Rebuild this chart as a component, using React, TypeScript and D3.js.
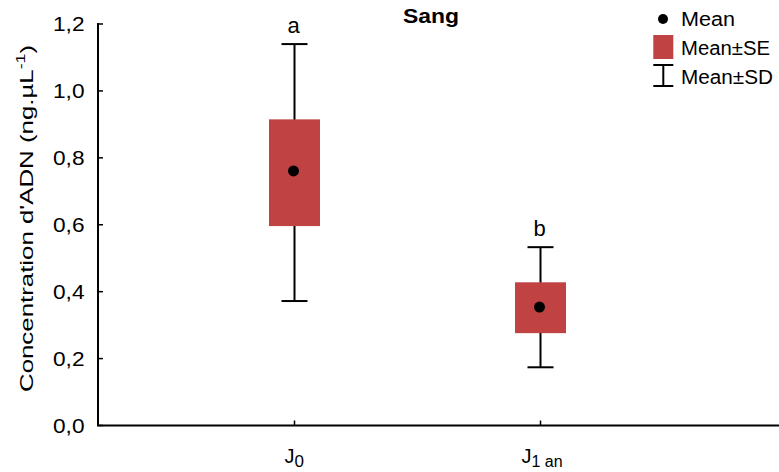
import React from "react";
import * as d3 from "d3";

const categories = ["J0", "J1an"];
const means = [0.761, 0.354];
const seLow = [0.596, 0.276];
const seHigh = [0.915, 0.428];
const sdLow = [0.372, 0.174];
const sdHigh = [1.14, 0.533];
const groupLetters = ["a", "b"];
const yTicks = [0, 0.2, 0.4, 0.6, 0.8, 1.0, 1.2];

const W = 779;
const H = 472;
const FONT = "'Liberation Sans', Arial, sans-serif";
const RED = "#c04242";

export default function App() {
  const y = d3.scaleLinear().domain([0, 1.2]).range([425.5, 24]);
  const x = d3.scalePoint<string>().domain(categories).range([294.5, 540.5]);
  const boxW = 51;
  const capW = 26;
  const fmt = (v: number) => v.toFixed(1).replace(".", ",");

  return (
    <svg
      width={W}
      height={H}
      style={{ position: "absolute", left: 0, top: 0 }}
      fontFamily={FONT}
    >
      <rect width={W} height={H} fill="#fff" />
      {/* axes */}
      <line x1={98} x2={98} y1={y(1.2) - 1} y2={y(0)} stroke="#000" strokeWidth={2} />
      <line x1={97} x2={W} y1={y(0)} y2={y(0)} stroke="#000" strokeWidth={2} />
      {yTicks.map((t) => (
        <g key={t}>
          <line x1={98} x2={103} y1={y(t)} y2={y(t)} stroke="#000" strokeWidth={1.5} />
          <text
            x={84.5}
            y={y(t)}
            dy="0.36em"
            textAnchor="end"
            fontSize={20}
            textLength={31.5}
            lengthAdjust="spacingAndGlyphs"
            fill="#000"
          >
            {fmt(t)}
          </text>
        </g>
      ))}
      {categories.map((c) => (
        <line key={c} x1={x(c)} x2={x(c)} y1={y(0)} y2={y(0) - 5} stroke="#000" strokeWidth={1.5} />
      ))}
      <text x={x("J0")! - 10} y={463} fontSize={20} fill="#000">
        <tspan>J</tspan>
        <tspan fontSize={17} dy={4}>0</tspan>
      </text>
      <text x={x("J1an")! - 19} y={463} fontSize={20} fill="#000">
        <tspan>J</tspan>
        <tspan fontSize={16} dy={4}>1 an</tspan>
      </text>
      <text
        transform={`translate(33,${218.5}) rotate(-90)`}
        textAnchor="middle"
        fontSize={19}
        textLength={347}
        lengthAdjust="spacingAndGlyphs"
        fill="#000"
      >
        Concentration d'ADN (ng.µL
        <tspan fontSize={13} dy={-8}>-1</tspan>
        <tspan dy={8}>)</tspan>
      </text>
      <text
        x={431}
        y={23.3}
        textAnchor="middle"
        fontSize={20.5}
        fontWeight="bold"
        textLength={56}
        lengthAdjust="spacingAndGlyphs"
        fill="#000"
      >
        Sang
      </text>

      {/* boxes */}
      {categories.map((c, i) => {
        const cx = x(c)!;
        return (
          <g key={c}>
            <line x1={cx} x2={cx} y1={y(sdHigh[i])} y2={y(sdLow[i])} stroke="#000" strokeWidth={2} />
            <line x1={cx - capW / 2} x2={cx + capW / 2} y1={y(sdHigh[i])} y2={y(sdHigh[i])} stroke="#000" strokeWidth={2} />
            <line x1={cx - capW / 2} x2={cx + capW / 2} y1={y(sdLow[i])} y2={y(sdLow[i])} stroke="#000" strokeWidth={2} />
            <rect
              x={cx - boxW / 2}
              y={y(seHigh[i])}
              width={boxW}
              height={y(seLow[i]) - y(seHigh[i])}
              fill={RED}
            />
            <circle cx={cx - 1} cy={y(means[i])} r={5.5} fill="#000" />
            <text x={cx - 1} y={y(sdHigh[i]) - 11} textAnchor="middle" fontSize={22} fill="#000">
              {groupLetters[i]}
            </text>
          </g>
        );
      })}

      {/* legend */}
      <circle cx={663} cy={19} r={5} fill="#000" />
      <text x={681} y={25.5} fontSize={20} textLength={54} lengthAdjust="spacingAndGlyphs" fill="#000">
        Mean
      </text>
      <rect x={653.3} y={35} width={20} height={24} fill={RED} />
      <text x={681} y={54.5} fontSize={20} textLength={89} lengthAdjust="spacingAndGlyphs" fill="#000">
        Mean±SE
      </text>
      <line x1={663.3} x2={663.3} y1={65} y2={86} stroke="#000" strokeWidth={2} />
      <line x1={653.3} x2={673.3} y1={65} y2={65} stroke="#000" strokeWidth={2} />
      <line x1={653.3} x2={673.3} y1={86} y2={86} stroke="#000" strokeWidth={2} />
      <text x={681} y={83.5} fontSize={20} textLength={92} lengthAdjust="spacingAndGlyphs" fill="#000">
        Mean±SD
      </text>
    </svg>
  );
}
